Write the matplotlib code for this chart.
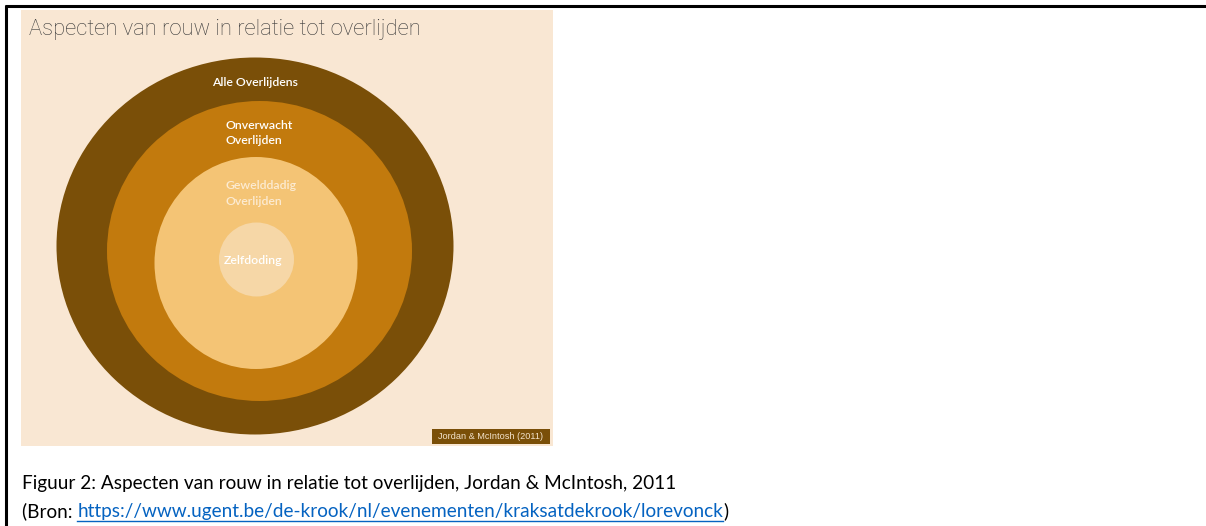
import matplotlib
matplotlib.use("Agg")
import matplotlib.pyplot as plt
from matplotlib.patches import Ellipse, Rectangle
from matplotlib.lines import Line2D

# ---- data ----
title = "Aspecten van rouw in relatie tot overlijden"
ring_labels = ["Alle Overlijdens", "Onverwacht\nOverlijden", "Gewelddadig\nOverlijden", "Zelfdoding"]
ring_colors = ["#7A4F08", "#C27A0D", "#F4C475", "#F6D7A7"]
label_colors = ["#FFFFFF", "#FFFFFF", "#FCEBD2", "#FFFFFF"]
source_tag = "Jordan & McIntosh (2011)"
caption = "Figuur 2: Aspecten van rouw in relatie tot overlijden, Jordan & McIntosh, 2011"
bron_prefix = "(Bron: "
bron_url = "https://www.ugent.be/de-krook/nl/evenementen/kraksatdekrook/lorevonck"
bron_suffix = ")"

# ---- layout (pixel coordinates) ----
W, H = 1206, 526
fig = plt.figure(figsize=(W / 100, H / 100), dpi=100)
ax = fig.add_axes([0, 0, 1, 1])
ax.set_xlim(0, W)
ax.set_ylim(H, 0)
ax.axis("off")

# page border lines
ax.add_line(Line2D([5, W], [6, 6], color="black", lw=2.2, solid_capstyle="butt"))
ax.add_line(Line2D([6, 6], [5, H], color="black", lw=2.2, solid_capstyle="butt"))

# picture background
ax.add_patch(Rectangle((21, 10), 532, 436, facecolor="#F9E7D3", edgecolor="none"))

# circles: (cx, cy, width, height)
geoms = [(255, 246, 397, 377), (259.5, 251, 305, 300), (256, 263, 203, 212), (256.5, 259.5, 75, 74)]
for (cx, cy, w, h), c in zip(geoms, ring_colors):
    ax.add_patch(Ellipse((cx, cy), w, h, facecolor=c, edgecolor="none"))

label_pos = [(212, 82), (225, 133), (225, 193.5), (224, 260)]
for (x, y), lab, col in zip(label_pos, ring_labels, label_colors):
    ax.text(x, y, lab, color=col, fontsize=8.8, family=["Lato", "DejaVu Sans"],
            fontweight="semibold", ha="left", va="center", linespacing=1.45)

# title
ax.text(29, 29, title, fontsize=15.8, family=["Roboto", "DejaVu Sans"], fontweight="light",
        color="#3A3A3A", ha="left", va="center")

# source tag
ax.add_patch(Rectangle((432, 429), 118, 15, facecolor="#7A4F08", edgecolor="none"))
ax.text(491, 436.8, source_tag, fontsize=6.6, family=["Liberation Sans", "DejaVu Sans"],
        color="#F3E3CC", ha="center", va="center")

# caption
cap_font = dict(fontsize=13.7, family=["Lato", "DejaVu Sans"])
ax.text(22, 483, caption, color="black", ha="left", va="center", **cap_font)
t1 = ax.text(22, 511, bron_prefix, color="black", ha="left", va="center", **cap_font)
fig.canvas.draw()
r = fig.canvas.get_renderer()
inv = ax.transData.inverted()
bb = t1.get_window_extent(r)
x1 = inv.transform((bb.x1, bb.y0))[0]
t2 = ax.text(x1, 511, bron_url, color="#0563C1", ha="left", va="center", **cap_font)
bb2 = t2.get_window_extent(r)
x2 = inv.transform((bb2.x1, bb2.y0))[0]
ax.add_line(Line2D([x1, x2], [520.5, 520.5], color="#0563C1", lw=1))
ax.text(x2, 511, bron_suffix, color="black", ha="left", va="center", **cap_font)

fig.savefig("out.png", dpi=100)
